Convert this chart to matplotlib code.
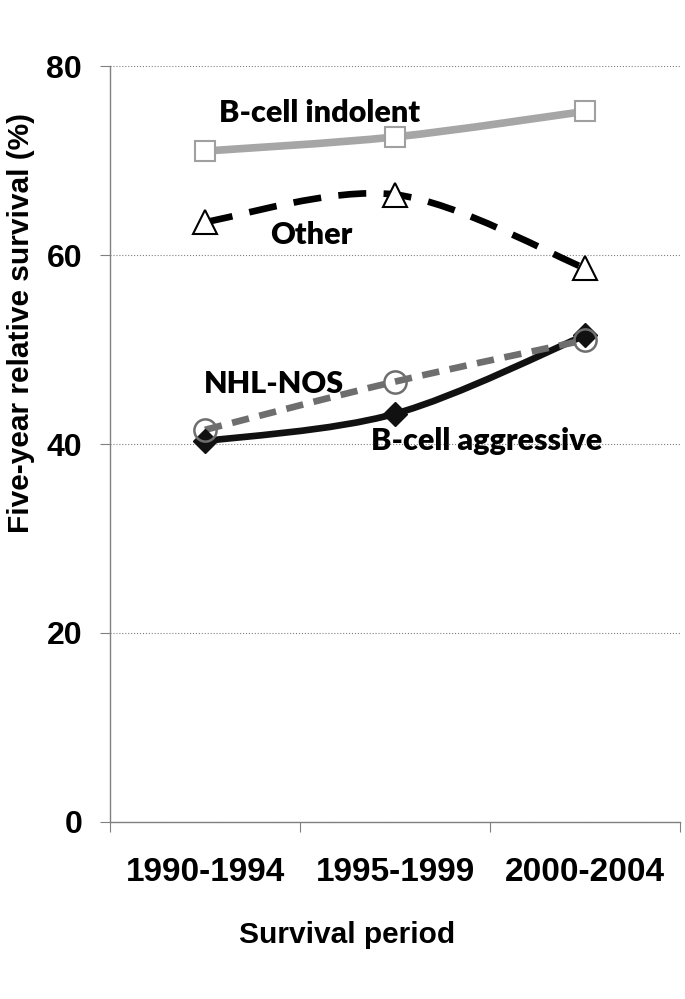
import numpy as np
import matplotlib.pyplot as plt
from matplotlib.path import Path
from matplotlib.patches import PathPatch

periods = ["1990-1994", "1995-1999", "2000-2004"]
indolent = [71.0, 72.5, 75.2]
other = [63.5, 66.4, 58.6]
nhl_nos = [41.5, 46.6, 51.0]
aggressive = [40.3, 43.2, 51.5]

label_font = "Liberation Sans"
note_font = "Lato"


def smooth_path(xs, ys):
    # Excel-like smoothed line: cubic Bezier through the points
    pts = np.column_stack([xs, ys]).astype(float)
    ext = np.vstack([pts[0], pts, pts[-1]])
    verts = [pts[0]]
    codes = [Path.MOVETO]
    for i in range(len(pts) - 1):
        p0, p1, p2, p3 = ext[i], ext[i + 1], ext[i + 2], ext[i + 3]
        verts += [p1 + (p2 - p0) / 6, p2 - (p3 - p1) / 6, p2]
        codes += [Path.CURVE4] * 3
    return Path(verts, codes)


fig = plt.figure(figsize=(6.85, 9.99), dpi=100)
ax = fig.add_axes([0.1606, 0.1772, 0.8321, 0.7567])

x = np.arange(len(periods))

series = [
    (indolent, dict(color="#a6a6a6", lw=5.5, ls="-"), dict(marker="s", ms=15, mfc="white", mec="#a0a0a0", mew=1.5)),
    (other, dict(color="black", lw=4.8, ls=(0, (4.2, 2.6))), dict(marker="^", ms=17, mfc="white", mec="black", mew=1.5)),
    (aggressive, dict(color="#111111", lw=4.8, ls="-"), dict(marker="D", ms=12, mfc="#111111", mec="#111111", mew=1)),
    (nhl_nos, dict(color="#6e6e6e", lw=4.8, ls=(0, (2.6, 1.6))), dict(marker="o", ms=16, mfc="none", mec="#6e6e6e", mew=1.8)),
]

for vals, line_kw, mark_kw in series:
    patch = PathPatch(smooth_path(x, vals), fill=False, capstyle="butt", **line_kw)
    ax.add_patch(patch)
    ax.plot(x, vals, ls="none", zorder=3, **mark_kw)

ax.set_xlim(-0.5, 2.5)
ax.set_ylim(0, 80)
ax.set_yticks([0, 20, 40, 60, 80])
ax.yaxis.grid(True, color="#808080", lw=0.8, ls=":")
ax.set_axisbelow(True)

ax.set_xticks([-0.5, 0.5, 1.5, 2.5])
ax.set_xticklabels([])
ax.set_xticks(x, minor=True)
ax.set_xticklabels(periods, minor=True)
ax.tick_params(axis="x", which="major", length=7, color="#808080", direction="out")
ax.tick_params(axis="x", which="minor", length=0, pad=25, labelsize=24)
ax.tick_params(axis="y", length=7, color="#808080", pad=13, labelsize=23)
for lab in ax.get_xticklabels(minor=True) + ax.get_yticklabels():
    lab.set_fontfamily(label_font)
    lab.set_fontweight("bold")

for side in ["top", "right"]:
    ax.spines[side].set_visible(False)
for side in ["left", "bottom"]:
    ax.spines[side].set_color("#808080")
    ax.spines[side].set_linewidth(1)

fig.text(347 / 685, 1 - 935 / 999, "Survival period", ha="center", va="center",
         fontsize=21.5, fontweight="bold", family=label_font)
fig.text(21 / 685, 1 - 323 / 999, "Five-year relative survival (%)", ha="center", va="center",
         rotation=90, fontsize=21.5, fontweight="bold", family=label_font)

notes = [("B-cell indolent", 0.605, 75.0), ("Other", 0.558, 62.1),
         ("NHL-NOS", 0.363, 46.3), ("B-cell aggressive", 1.484, 40.3)]
for txt, nx, ny in notes:
    ax.text(nx, ny, txt, ha="center", va="center", fontsize=22, fontweight="heavy",
            family=note_font, zorder=4)

fig.savefig("out.png", dpi=100)
